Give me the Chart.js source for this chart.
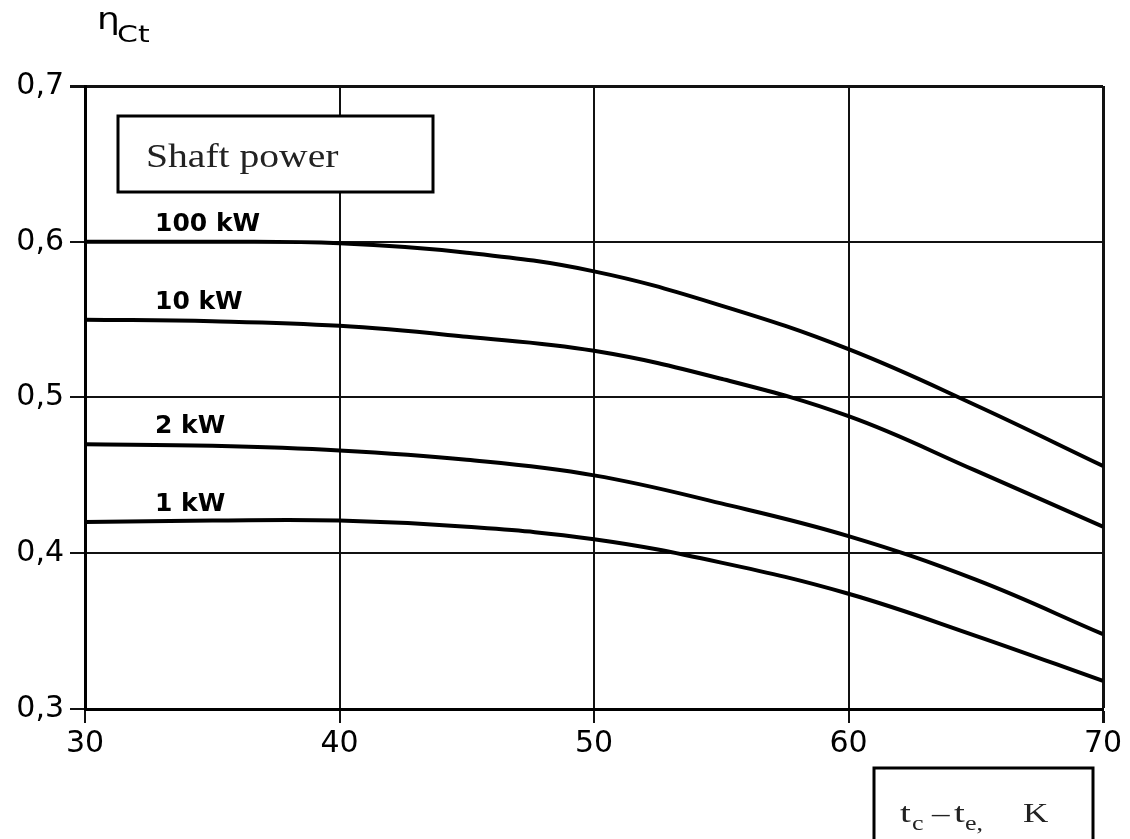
<!DOCTYPE html>
<html>
<head>
<meta charset="utf-8">
<title>Isentropic compressor efficiency vs. temperature lift</title>
<script src="https://cdn.jsdelivr.net/npm/chart.js@4.4.1/dist/chart.umd.min.js"></script>
<style>
  html, body { margin: 0; padding: 0; background: #ffffff; }
  #wrap { width: 1130px; height: 839px; position: relative; overflow: hidden; }
  canvas { display: block; }
</style>
</head>
<body>
<div id="wrap"><canvas id="chart" width="1130" height="839"></canvas></div>
<script>
// Temperature lift tc - te (K) at which each curve is sampled
const deltaT = [30, 35, 40, 45, 50, 55, 60, 65, 70];

// Isentropic efficiency for each shaft power
const eta100kW = [0.600, 0.600, 0.599, 0.593, 0.581, 0.559, 0.531, 0.495, 0.456];
const eta10kW  = [0.550, 0.549, 0.546, 0.539, 0.530, 0.512, 0.488, 0.453, 0.417];
const eta2kW   = [0.470, 0.469, 0.466, 0.460, 0.450, 0.432, 0.411, 0.383, 0.348];
const eta1kW   = [0.420, 0.421, 0.421, 0.417, 0.409, 0.394, 0.374, 0.347, 0.318];

const seriesNames = ['100 kW', '10 kW', '2 kW', '1 kW'];
const seriesValues = [eta100kW, eta10kW, eta2kW, eta1kW];

// Axis tick labels (decimal comma)
const yTickLabels = ['0,3', '0,4', '0,5', '0,6', '0,7'];
const xTickLabels = ['30', '40', '50', '60', '70'];

const datasets = seriesNames.map((name, i) => ({
  label: name,
  data: deltaT.map((t, j) => ({ x: t, y: seriesValues[i][j] })),
  borderColor: '#000000',
  borderWidth: 4,
  pointRadius: 0,
  fill: false,
  tension: 0.4
}));

// Helper: horizontally widened text, as in the printed figure
function wideText(ctx, text, x, y, sx) {
  ctx.save();
  ctx.translate(x, y);
  ctx.scale(sx, 1);
  ctx.fillText(text, 0, 0);
  ctx.restore();
}

const annotations = {
  id: 'annotations',
  afterDraw(chart) {
    const ctx = chart.ctx;
    const xs = chart.scales.x;
    const ys = chart.scales.y;
    ctx.save();
    ctx.fillStyle = '#000';
    ctx.textBaseline = 'alphabetic';
    ctx.textAlign = 'left';

    // Axis symbol for efficiency: eta with subscript Ct
    ctx.font = '30px "DejaVu Sans"';
    wideText(ctx, '\u03B7', 97, 29, 1.2);
    ctx.font = '23px "DejaVu Sans"';
    wideText(ctx, 'Ct', 117, 42, 1.3);

    // Curve names, just above the start of each curve
    ctx.font = 'bold 25px "DejaVu Sans"';
    seriesNames.forEach((name, i) => {
      const px = xs.getPixelForValue(32.75);
      const py = ys.getPixelForValue(seriesValues[i][0]) - 11;
      ctx.fillText(name, px, py);
    });

    // "Shaft power" box
    ctx.lineWidth = 3;
    ctx.strokeStyle = '#000';
    ctx.fillStyle = '#ffffff';
    ctx.fillRect(118, 116, 315, 76);
    ctx.strokeRect(118, 116, 315, 76);
    ctx.fillStyle = '#222';
    ctx.font = '33px "Liberation Serif"';
    wideText(ctx, 'Shaft power', 146, 167, 1.2);

    // x-axis title box: tc - te, K
    ctx.fillStyle = '#ffffff';
    ctx.fillRect(874, 768, 219, 80);
    ctx.strokeRect(874, 768, 219, 80);
    ctx.fillStyle = '#222';
    ctx.font = '27px "Liberation Serif"';
    wideText(ctx, 't', 900, 822, 1.45);
    wideText(ctx, '\u2013', 932, 822, 1.3);
    wideText(ctx, 't', 954, 822, 1.45);
    wideText(ctx, 'K', 1023, 822, 1.3);
    ctx.font = '20px "Liberation Serif"';
    wideText(ctx, 'c', 912, 830, 1.3);
    wideText(ctx, 'e,', 965, 830, 1.3);
    ctx.restore();
  }
};

new Chart(document.getElementById('chart'), {
  type: 'line',
  data: { datasets },
  plugins: [annotations],
  options: {
    responsive: false,
    devicePixelRatio: 1,
    animation: false,
    layout: { padding: { top: 86, right: 27, bottom: 0, left: 0 } },
    plugins: {
      legend: { display: false },
      tooltip: { enabled: false },
      title: { display: false }
    },
    scales: {
      x: {
        type: 'linear',
        min: 30,
        max: 70,
        afterFit(scale) { scale.height = 130; },
        ticks: {
          stepSize: 10,
          padding: 3,
          color: '#000',
          font: { family: 'DejaVu Sans', size: 30 },
          callback: (v) => xTickLabels[Math.round((v - 30) / 10)]
        },
        grid: {
          color: '#111',
          lineWidth: (c) => (c.tick && c.tick.value === 70 ? 3 : 2),
          tickLength: 14,
          drawTicks: true
        },
        border: { display: true, color: '#000', width: 3 }
      },
      y: {
        type: 'linear',
        min: 0.3,
        max: 0.7,
        afterFit(scale) { scale.width = 85; },
        ticks: {
          stepSize: 0.1,
          padding: 6,
          color: '#000',
          font: { family: 'DejaVu Sans', size: 30 },
          callback: (v) => yTickLabels[Math.round((v - 0.3) * 10)]
        },
        grid: {
          color: '#111',
          lineWidth: (c) => (c.tick && Math.abs(c.tick.value - 0.7) < 1e-6 ? 3 : 2),
          tickLength: 15,
          drawTicks: true
        },
        border: { display: true, color: '#000', width: 3 }
      }
    }
  }
});
</script>
</body>
</html>
